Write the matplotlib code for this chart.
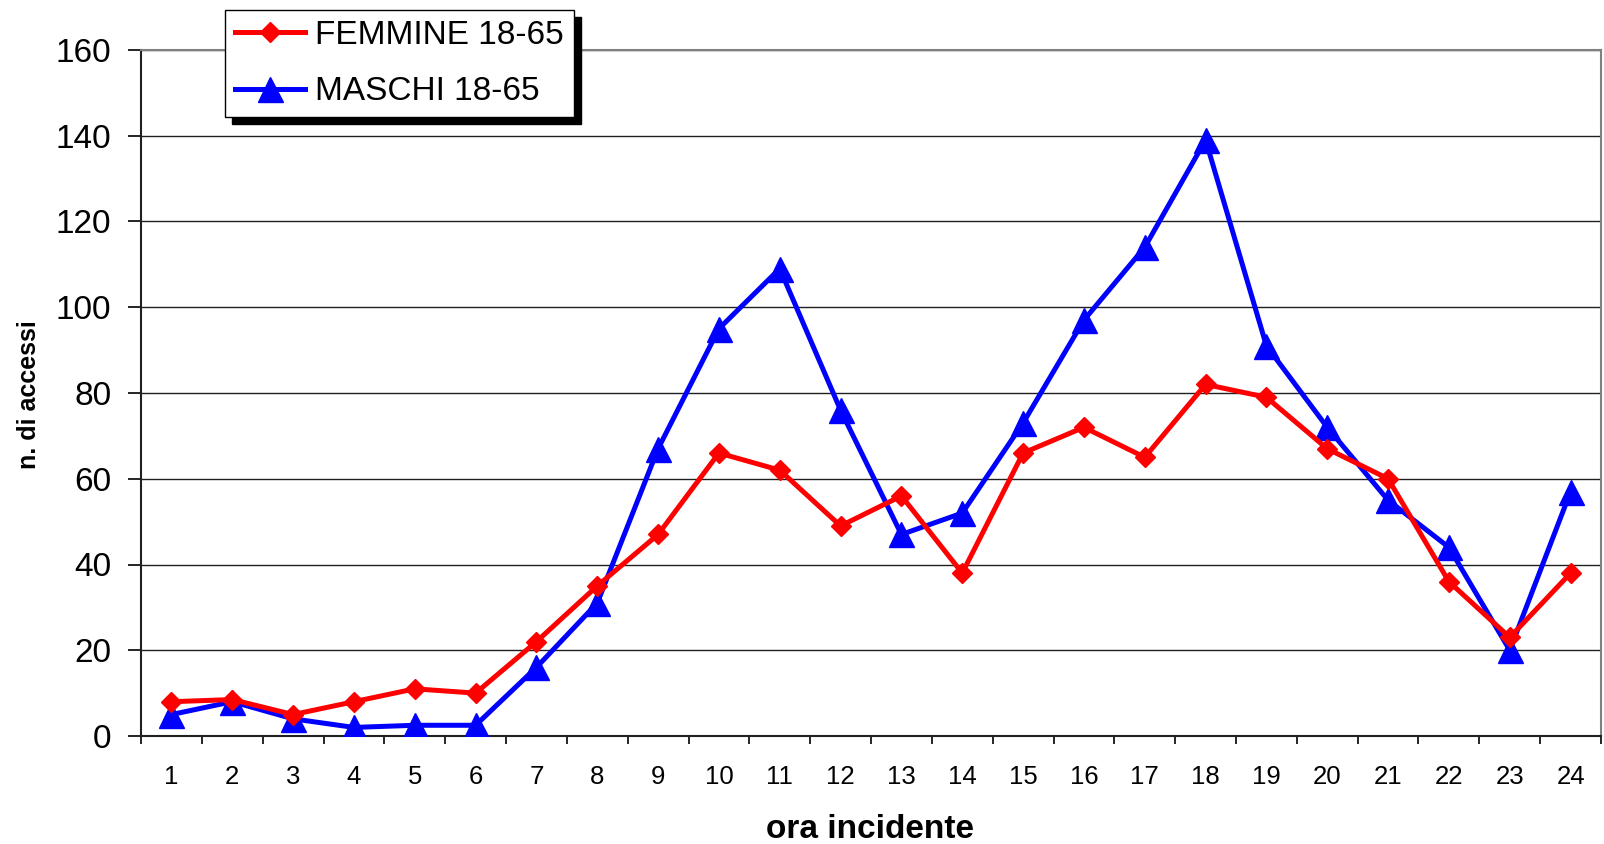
import numpy as np
import matplotlib.pyplot as plt

plt.rcParams['font.family'] = ['Liberation Sans', 'DejaVu Sans']

# hour of the incident (categories)
ore = [str(h) for h in range(1, 25)]
# number of accesses, women 18-65
femmine = [8, 8.5, 5, 8, 11, 10, 22, 35, 47, 66, 62, 49,
           56, 38, 66, 72, 65, 82, 79, 67, 60, 36, 23, 38]
# number of accesses, men 18-65
maschi = [5, 8, 4, 2, 2.5, 2.5, 16, 31, 67, 95, 109, 76,
          47, 52, 73, 97, 114, 139, 91, 72, 55, 44, 20, 57]

W, H = 1604, 844
fig = plt.figure(figsize=(W / 100, H / 100), dpi=100)
ax = fig.add_axes([141 / W, 1 - 736 / H, (1601 - 141) / W, (736 - 50) / H])

x = np.arange(1, len(ore) + 1)
l1, = ax.plot(x, femmine, color='#ff0000', lw=3.6, marker='D', ms=10,
              label='FEMMINE 18-65', zorder=4)
l2, = ax.plot(x, maschi, color='#0000ff', lw=3.6, marker='^', ms=18,
              label='MASCHI 18-65', zorder=3)

ax.set_xlim(0.5, 24.5)
ax.set_ylim(0, 160)
ax.set_yticks(np.arange(0, 161, 20))
ax.tick_params(axis='y', labelsize=24, length=9.5, width=1.2, direction='out', pad=12)
ax.set_xticks(x)
ax.set_xticklabels(ore)
ax.set_xticks(np.arange(0.5, 25, 1), minor=True)
ax.tick_params(axis='x', which='major', labelsize=18.5, length=0, pad=21)
ax.tick_params(axis='x', which='minor', length=6, width=1.2, direction='out')
ax.yaxis.grid(True, color='#202020', lw=1)
ax.set_axisbelow(True)

for s in ['left', 'bottom']:
    ax.spines[s].set_color('#202020')
    ax.spines[s].set_linewidth(1.5)
for s in ['top', 'right']:
    ax.spines[s].set_color('#808080')
    ax.spines[s].set_linewidth(1.5)

fig.text(29 / W, 1 - 395 / H, 'n. di accessi', rotation=90, fontsize=18,
         fontweight='bold', ha='center', va='center')
fig.text(870 / W, 1 - 829 / H, 'ora incidente', fontsize=24,
         fontweight='bold', ha='center', va='center')

leg = fig.legend(handles=[l1, l2], loc='upper left',
                 bbox_to_anchor=(225 / W, 1 - 10 / H), bbox_transform=fig.transFigure,
                 fontsize=24, fancybox=False, framealpha=1, edgecolor='black',
                 handlelength=2.1, handletextpad=0.3, borderpad=0.3,
                 labelspacing=0.76, borderaxespad=0,
                 shadow={'ox': 5, 'oy': -5, 'facecolor': 'black',
                         'edgecolor': 'black', 'alpha': 1})
leg.get_frame().set_linewidth(1)
for h in leg.legend_handles:
    h.set_linewidth(3.6)
leg.legend_handles[0].set_markersize(10)
leg.legend_handles[1].set_markersize(18)

fig.savefig('out.png', dpi=100)
